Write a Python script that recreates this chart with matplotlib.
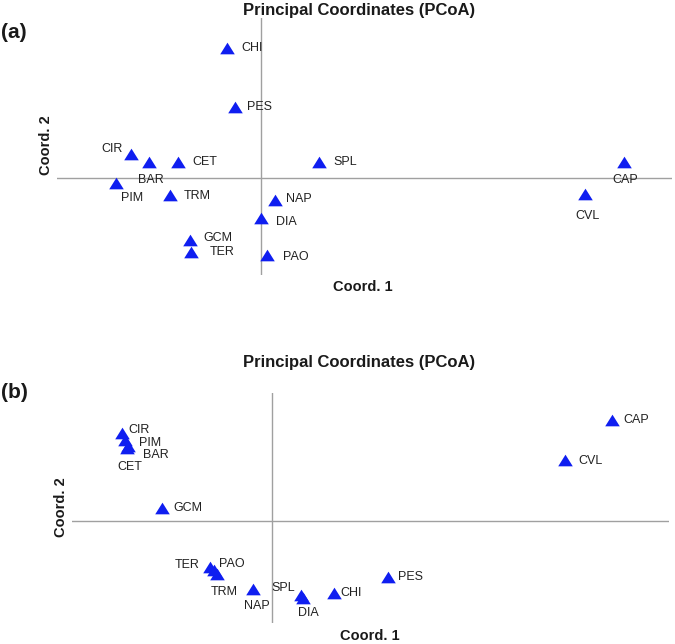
import matplotlib
matplotlib.use("Agg")
import matplotlib.pyplot as plt

plt.rcParams['font.family'] = ['Liberation Sans', 'DejaVu Sans']

# ---- Data: panel (a) ----
labels_a = ["CHI", "PES", "CIR", "BAR", "CET", "PIM", "TRM", "NAP", "DIA",
            "GCM", "TER", "PAO", "SPL", "CAP", "CVL"]
x_a = [-0.34, -0.26, -1.30, -1.12, -0.83, -1.45, -0.91, 0.14, 0.00,
       -0.71, -0.70, 0.06, 0.58, 3.63, 3.24]
y_a = [1.30, 0.71, 0.24, 0.16, 0.16, -0.05, -0.17, -0.22, -0.40,
       -0.62, -0.74, -0.77, 0.16, 0.16, -0.16]

# ---- Data: panel (b) ----
labels_b = ["CIR", "PIM", "BAR", "CET", "GCM", "TER", "PAO", "TRM", "NAP",
            "SPL", "DIA", "CHI", "PES", "CAP", "CVL"]
x_b = [-1.50, -1.47, -1.44, -1.45, -1.10, -0.62, -0.58, -0.55, -0.19,
       0.29, 0.31, 0.62, 1.16, 3.40, 2.93]
y_b = [0.88, 0.81, 0.75, 0.73, 0.13, -0.46, -0.49, -0.53, -0.68,
       -0.74, -0.77, -0.72, -0.56, 1.01, 0.61]

# label offsets (pixels: dx right, dy down) and alignment -- styling only
off_a = {"CHI": (14, 0, "left"), "PES": (12, 0, "left"), "CIR": (-8, -5, "right"),
         "BAR": (-11, 18, "left"), "CET": (14, 0, "left"), "PIM": (16, 15, "center"),
         "TRM": (14, 1, "left"), "NAP": (11, -1, "left"), "DIA": (15, 4, "left"),
         "GCM": (13, -2, "left"), "TER": (19, 0, "left"), "PAO": (16, 2, "left"),
         "SPL": (14, 0, "left"), "CAP": (1, 18, "center"), "CVL": (3, 22, "center")}
off_b = {"CIR": (6, -3, "left"), "PIM": (14, 3, "left"), "BAR": (15, 9, "left"),
         "CET": (3, 19, "center"), "GCM": (11, 0, "left"), "TER": (-10, -2, "right"),
         "PAO": (5, -6, "left"), "TRM": (7, 18, "center"), "NAP": (4, 17, "center"),
         "SPL": (-6, -7, "right"), "DIA": (5, 15, "center"), "CHI": (6, 0, "left"),
         "PES": (10, 0, "left"), "CAP": (11, 0, "left"), "CVL": (13, 1, "left")}

W, H = 675, 644
fig = plt.figure(figsize=(W / 100, H / 100), dpi=100)

TRI = [(-1, -0.8), (1, -0.8), (0, 0.8), (-1, -0.8)]

def make_axes(x0, x1, y0, y1):
    return fig.add_axes([x0 / W, 1 - y1 / H, (x1 - x0) / W, (y1 - y0) / H])

def draw_panel(ax, xs, ys, labs, offs, xlim, ylim):
    ax.set_xlim(*xlim)
    ax.set_ylim(*ylim)
    for s in ax.spines.values():
        s.set_visible(False)
    ax.set_xticks([])
    ax.set_yticks([])
    ax.patch.set_alpha(0)
    ax.axhline(0, color="#a0a0a0", lw=1.0, zorder=1)
    ax.axvline(0, color="#a0a0a0", lw=1.0, zorder=1)
    ax.plot(xs, ys, linestyle="none", marker=TRI, ms=10.5, color="#0f1ef0",
            markeredgewidth=0, zorder=3, clip_on=False)
    for xv, yv, lab in zip(xs, ys, labs):
        dx, dy, ha = offs[lab]
        ax.annotate(lab, (xv, yv), xytext=(dx * 0.72, -dy * 0.72),
                    textcoords="offset points", ha=ha, va="center",
                    fontsize=9, color="#222222", zorder=4)

ax_a = make_axes(57, 672, 18, 275)
draw_panel(ax_a, x_a, y_a, labels_a, off_a, (-2.04, 4.11), (-0.97, 1.60))

ax_b = make_axes(72, 669, 393, 623)
draw_panel(ax_b, x_b, y_b, labels_b, off_b, (-2.00, 3.97), (-1.02, 1.28))

def ftext(px, py, s, **kw):
    fig.text(px / W, 1 - py / H, s, **kw)

for ty, py_lab, cy_x, cy_y, c1x, c1y, lab in [
        (10, 33, 46, 145, 363, 287, "(a)"),
        (363, 393, 61, 507, 370, 636, "(b)")]:
    ftext(359, ty, "Principal Coordinates (PCoA)", ha="center", va="center",
          fontsize=12, fontweight="bold", color="#1a1a1a")
    ftext(1, py_lab, lab, ha="left", va="center", fontsize=15,
          fontweight="bold", color="#1a1a1a")
    ftext(cy_x, cy_y, "Coord. 2", ha="center", va="center", rotation=90,
          fontsize=10.5, fontweight="bold", color="#1a1a1a")
    ftext(c1x, c1y, "Coord. 1", ha="center", va="center",
          fontsize=10.5, fontweight="bold", color="#1a1a1a")

fig.savefig("out.png", dpi=100)
